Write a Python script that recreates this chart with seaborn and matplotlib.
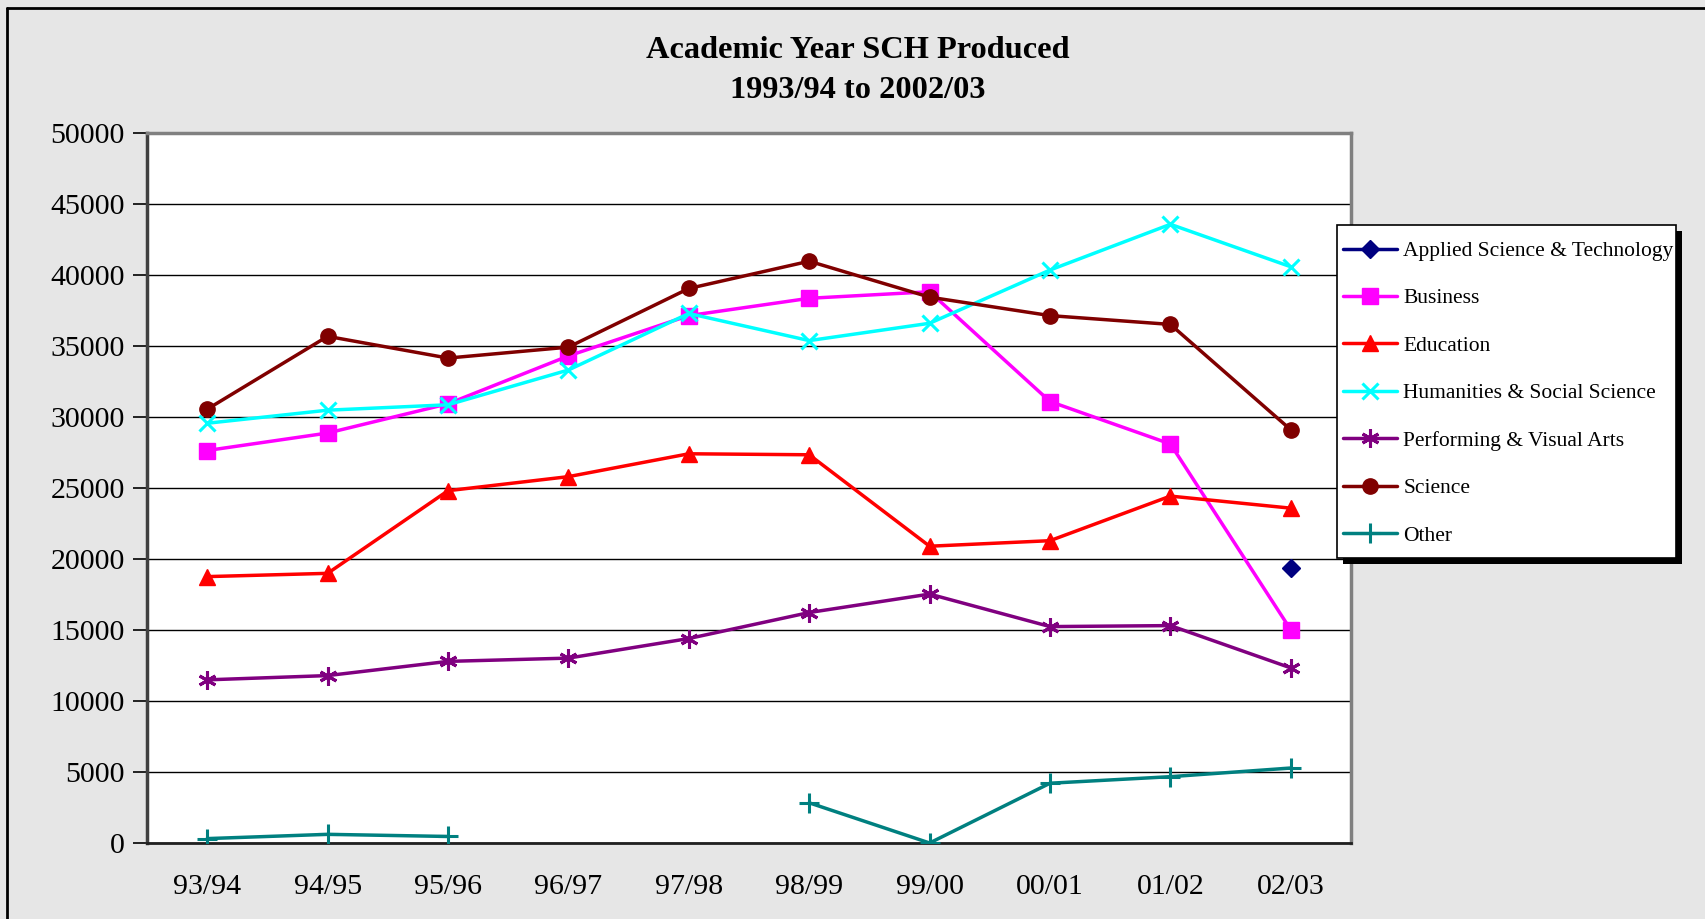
import matplotlib
matplotlib.use("Agg")
import matplotlib.pyplot as plt
import seaborn as sns
import numpy as np
import pandas as pd
from matplotlib.patches import Rectangle
from matplotlib.lines import Line2D

years = ["93/94", "94/95", "95/96", "96/97", "97/98", "98/99", "99/00", "00/01", "01/02", "02/03"]

applied = [np.nan] * 9 + [19370]
business = [27640, 28870, 30930, 34300, 37140, 38360, 38820, 31090, 28100, 15010]
education = [18760, 18990, 24810, 25800, 27410, 27340, 20900, 21290, 24430, 23580]
humanities = [29560, 30480, 30860, 33310, 37290, 35380, 36600, 40350, 43570, 40580]
performing = [11490, 11790, 12790, 13020, 14400, 16230, 17530, 15240, 15310, 12330]
science = [30550, 35680, 34150, 34920, 39050, 40970, 38440, 37140, 36520, 29100]
other = [310, 610, 460, np.nan, np.nan, 2830, 0, 4210, 4670, 5280]

series_names = ["Applied Science & Technology", "Business", "Education",
                "Humanities & Social Science", "Performing & Visual Arts",
                "Science", "Other"]
series_values = [applied, business, education, humanities, performing, science, other]
colors = ["#000080", "#FF00FF", "#FF0000", "#00FFFF", "#800080", "#800000", "#008080"]
markers = ["D", "s", "^", "x", (6, 2, 0), "o", "+"]
msizes = [9, 11, 11, 12, 13, 11, 14]

sns.set_theme(style="white")
plt.rcParams["font.family"] = ["Liberation Serif", "DejaVu Serif"]
plt.rcParams["text.color"] = "black"
plt.rcParams["xtick.color"] = "black"
plt.rcParams["ytick.color"] = "black"

W, H = 1705, 919
fig = plt.figure(figsize=(17.05, 9.19), dpi=100)
fig.patch.set_facecolor("#e6e6e6")
ax = fig.add_axes([147 / W, 1 - 843 / H, (1351 - 147) / W, (843 - 133) / H])
ax.set_facecolor("white")

def mew(m):
    return 2.2 if m in ("x", "+") or isinstance(m, tuple) else 1

handles = []
for name, vals, c, m, ms in zip(series_names, series_values, colors, markers, msizes):
    df = pd.DataFrame({"x": np.arange(len(years)), "y": vals})
    df["seg"] = df["y"].isna().cumsum()
    df = df.dropna()
    for _, part in df.groupby("seg"):
        sns.lineplot(data=part, x="x", y="y", ax=ax, color=c, linewidth=2.5,
                     marker=m, markersize=ms, markeredgewidth=mew(m),
                     markeredgecolor=c, markerfacecolor=c, legend=False, zorder=3)
    handles.append(Line2D([], [], color=c, linewidth=2.5, marker=m, markersize=ms,
                          markeredgewidth=mew(m), markeredgecolor=c, markerfacecolor=c))

ax.set_xlim(-0.5, 9.5)
ax.set_ylim(0, 50000)
ax.set_yticks(np.arange(0, 50001, 5000))
ax.set_yticklabels([str(v) for v in range(0, 50001, 5000)], fontsize=21.5)
ax.set_xticks(np.arange(len(years)))
ax.set_xticklabels(years, fontsize=21.5)
ax.set_xticks(np.arange(-0.5, 10, 1), minor=True)
ax.tick_params(axis="x", which="major", length=0, pad=22)
ax.tick_params(axis="x", which="minor", direction="out", length=10, width=1.2, color="black")
ax.tick_params(axis="y", direction="out", length=10, width=1.2, color="black", pad=6, left=True)
ax.yaxis.grid(True, color="black", linewidth=1.0, zorder=0)
ax.xaxis.grid(False)
ax.set_axisbelow(True)
ax.set_xlabel("")
ax.set_ylabel("")
for s in ["top", "right"]:
    ax.spines[s].set_color("#808080")
    ax.spines[s].set_linewidth(2.5)
ax.spines["left"].set_color("#404040")
ax.spines["left"].set_linewidth(2.5)
ax.spines["bottom"].set_color("#202020")
ax.spines["bottom"].set_linewidth(2)
for s in ax.spines.values():
    s.set_visible(True)

fig.text(858 / W, 1 - 51 / H, "Academic Year SCH Produced", ha="center", va="center",
         fontsize=23.3, fontweight="bold", color="black")
fig.text(858 / W, 1 - 91 / H, "1993/94 to 2002/03", ha="center", va="center",
         fontsize=23.3, fontweight="bold", color="black")

# legend box (white panel with solid black drop shadow)
bx0, by0, bx1, by1 = 1337, 225, 1676, 558
off = 6
fig.patches.append(Rectangle(((bx0 + off) / W, 1 - (by1 + off) / H), (bx1 - bx0) / W, (by1 - by0) / H,
                             transform=fig.transFigure, facecolor="black", edgecolor="black",
                             linewidth=0, zorder=3))
fig.patches.append(Rectangle((bx0 / W, 1 - by1 / H), (bx1 - bx0) / W, (by1 - by0) / H,
                             transform=fig.transFigure, facecolor="white", edgecolor="black",
                             linewidth=1.2, zorder=3.5))

leg = fig.legend(handles, series_names, loc="upper left",
                 bbox_to_anchor=(1343 / W, 1 - 241 / H), bbox_transform=fig.transFigure,
                 fontsize=15.5, frameon=False, handlelength=2.5, handletextpad=0.3,
                 labelspacing=1.27, borderpad=0, borderaxespad=0)
leg.set_zorder(5)

# outer frame lines (top and left)
fig.add_artist(Line2D([7 / W, 1], [1 - 8 / H, 1 - 8 / H], transform=fig.transFigure, color="black", linewidth=2))
fig.add_artist(Line2D([7 / W, 7 / W], [0, 1 - 8 / H], transform=fig.transFigure, color="black", linewidth=2))

fig.savefig("out.png", dpi=100, facecolor=fig.get_facecolor())
